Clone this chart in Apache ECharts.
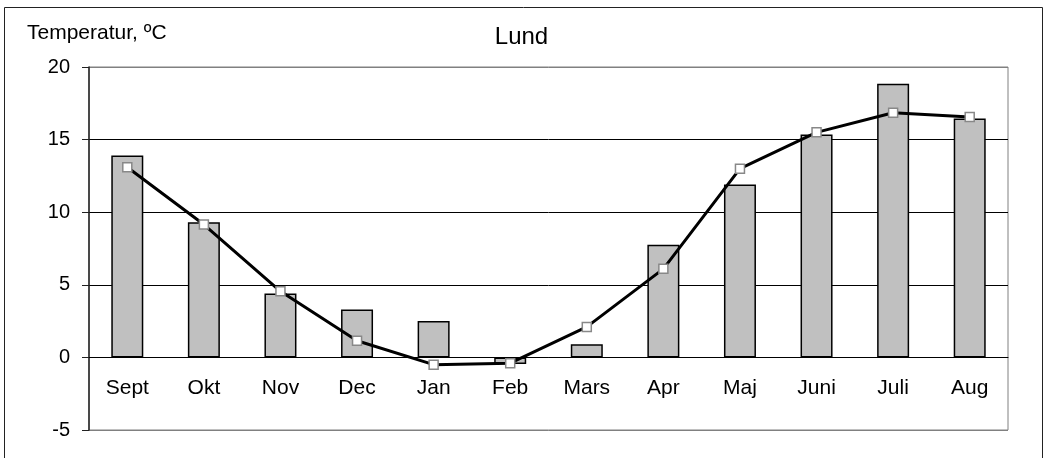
<!DOCTYPE html>
<html>
<head>
<meta charset="utf-8">
<script src="https://cdn.jsdelivr.net/npm/echarts@6/dist/echarts.min.js"></script>
<style>
html,body{margin:0;padding:0;background:#fff;}
#chart{width:1043px;height:458px;}
</style>
</head>
<body>
<div id="chart"></div>
<script>
var months = ['Sept','Okt','Nov','Dec','Jan','Feb','Mars','Apr','Maj','Juni','Juli','Aug'];
var barValues = [13.9, 9.3, 4.4, 3.3, 2.5, -0.45, 0.9, 7.75, 11.9, 15.35, 18.85, 16.45];
var lineValues = [13.1, 9.15, 4.55, 1.15, -0.5, -0.4, 2.1, 6.1, 13.0, 15.5, 16.85, 16.55];
var yTicks = [-5, 0, 5, 10, 15, 20];
var chartTitle = 'Lund';
var yName = 'Temperatur, ºC';

var chart = echarts.init(document.getElementById('chart'));
var font = 'Liberation Sans, Arial, sans-serif';
var gridTop = 67, gridBottom = 28, H = 458;
var yMin = yTicks[0], yMax = yTicks[yTicks.length - 1];
var plotH = H - gridTop - gridBottom;
var zeroOffset = -plotH * (0 - yMin) / (yMax - yMin);
chart.setOption({
  animation: false,
  backgroundColor: '#fff',
  title: [
    {text: chartTitle, left: 'center', top: 25, padding: 0,
     textStyle: {fontFamily: font, fontSize: 24, fontWeight: 'normal', color: '#000'}},
    {text: yName, left: 27, top: 23, padding: 0,
     textStyle: {fontFamily: font, fontSize: 21, fontWeight: 'normal', color: '#000'}}
  ],
  graphic: [{
    type: 'rect', silent: true, z: -1,
    shape: {x: 4.5, y: 7.5, width: 1038, height: 470},
    style: {fill: 'none', stroke: '#222', lineWidth: 1}
  }],
  grid: {left: 89, right: 35, top: gridTop, bottom: gridBottom, outerBoundsMode: 'none', containLabel: false,
         show: true, borderColor: '#808080', borderWidth: 1, backgroundColor: 'transparent'},
  xAxis: {
    type: 'category', data: months, position: 'bottom', offset: zeroOffset,
    axisLine: {onZero: false, lineStyle: {color: '#000', width: 1}},
    axisTick: {show: false},
    axisLabel: {margin: 20, fontFamily: font, fontSize: 21, color: '#000'},
    splitLine: {show: false}
  },
  yAxis: {
    type: 'value', min: yMin, max: yMax, interval: 5,
    axisLine: {show: true, lineStyle: {color: '#222', width: 1.5}},
    axisTick: {show: true, length: 7, lineStyle: {color: '#222'}},
    axisLabel: {margin: 19, fontFamily: font, fontSize: 20, color: '#000'},
    splitLine: {show: true, lineStyle: {color: ['#808080', '#000', '#000', '#000', '#000', '#808080'], width: 1}}
  },
  series: [
    {type: 'bar', data: barValues, barWidth: 32,
     itemStyle: {color: '#c0c0c0', borderColor: '#000', borderWidth: 1.5}, z: 2},
    {type: 'line', data: lineValues, symbol: 'rect', symbolSize: 9,
     lineStyle: {color: '#000', width: 3},
     itemStyle: {color: '#fff', borderColor: '#888', borderWidth: 1.5}, z: 3}
  ]
});
</script>
</body>
</html>
